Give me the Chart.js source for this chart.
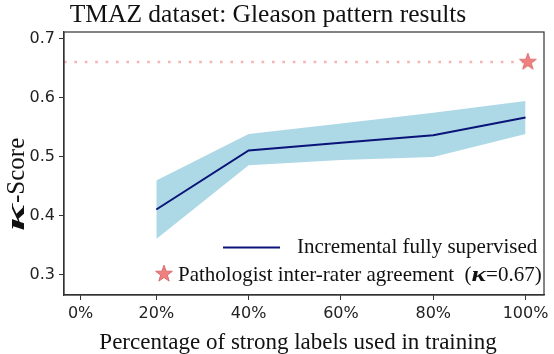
<!DOCTYPE html>
<html>
<head>
<meta charset="utf-8">
<script src="https://cdn.jsdelivr.net/npm/chart.js@4/dist/chart.umd.min.js"></script>
<style>
  html, body { margin: 0; padding: 0; background: #fff; }
  #wrap { width: 554px; height: 354px; position: relative; }
</style>
</head>
<body>
<div id="wrap"><canvas id="c" width="554" height="354"></canvas></div>
<script>
// ---- data ----
const chartTitle = 'TMAZ dataset: Gleason pattern results';
const xAxisTitle = 'Percentage of strong labels used in training';
const yAxisTitle = '-Score';
const kappaSymbol = 'κ';
const xValues = [20, 40, 60, 80, 100];
const meanScore = [0.410, 0.510, 0.523, 0.536, 0.566];
const upperBand = [0.459, 0.538, 0.556, 0.574, 0.594];
const lowerBand = [0.360, 0.485, 0.494, 0.499, 0.538];
const pathologistX = [0, 100];
const pathologistScore = [0.66, 0.66];
const starX = [100.5];
const starScore = [0.66];
const xTickValues = [3.6, 20, 40, 60, 80, 100];
const xTickLabels = ['0%', '20%', '40%', '60%', '80%', '100%'];
const yTickValues = [0.3, 0.4, 0.5, 0.6, 0.7];
const seriesLabels = ['Incremental fully supervised', 'Pathologist inter-rater agreement  ('];
const kappaValueText = '=0.67)';

const toXY = (xs, ys) => xs.map((x, i) => ({x: x, y: ys[i]}));

// star marker image
function makeStar(R) {
  const s = Math.ceil(R * 2 + 4);
  const cv = document.createElement('canvas');
  cv.width = s; cv.height = s;
  const g = cv.getContext('2d');
  const cx = s / 2, cy = s / 2, r = R * 0.4;
  g.beginPath();
  for (let i = 0; i < 10; i++) {
    const ang = -Math.PI / 2 + i * Math.PI / 5;
    const rad = i % 2 === 0 ? R : r;
    const px = cx + rad * Math.cos(ang), py = cy + rad * Math.sin(ang);
    if (i === 0) g.moveTo(px, py); else g.lineTo(px, py);
  }
  g.closePath();
  g.fillStyle = '#f08080';
  g.fill();
  g.lineWidth = 1;
  g.strokeStyle = '#d86c6c';
  g.stroke();
  return cv;
}
const starImg = makeStar(8.8);

const SERIF = '"Liberation Serif", "Times New Roman", serif';
const SANS = '"DejaVu Sans", sans-serif';

const decor = {
  id: 'decor',
  afterDraw(chart) {
    const ctx = chart.ctx;
    const a = chart.chartArea;
    ctx.save();
    // frame
    ctx.strokeStyle = '#333';
    ctx.lineWidth = 1.2;
    ctx.strokeRect(a.left, a.top, a.right - a.left, a.bottom - a.top);
    // title
    ctx.fillStyle = '#111';
    ctx.font = '25.5px ' + SERIF;
    ctx.textAlign = 'center';
    ctx.textBaseline = 'alphabetic';
    ctx.fillText(chartTitle, 268, 22);
    // x axis title
    ctx.font = '23px ' + SERIF;
    ctx.fillText(xAxisTitle, 298, 349);
    // y axis title (rotated)
    ctx.save();
    ctx.translate(24, 231);
    ctx.rotate(-Math.PI / 2);
    ctx.textAlign = 'left';
    ctx.font = 'bold italic 26px ' + SERIF;
    const kw0 = ctx.measureText(kappaSymbol).width;
    const kScale = 27 / kw0;
    ctx.save();
    ctx.scale(kScale, 1);
    ctx.fillText(kappaSymbol, 0, 0);
    ctx.restore();
    ctx.font = '25px ' + SERIF;
    ctx.fillText(yAxisTitle, 28, 0);
    ctx.restore();
    // legend row 1
    ctx.strokeStyle = '#0a1478';
    ctx.lineWidth = 2;
    ctx.beginPath();
    ctx.moveTo(223, 247.5);
    ctx.lineTo(280, 247.5);
    ctx.stroke();
    ctx.textAlign = 'left';
    ctx.font = '21px ' + SERIF;
    ctx.fillStyle = '#111';
    ctx.fillText(seriesLabels[0], 297, 253);
    // legend row 2
    ctx.drawImage(starImg, 164 - starImg.width / 2, 274 - starImg.height / 2);
    let x = 178;
    ctx.fillText(seriesLabels[1], x, 281);
    x += ctx.measureText(seriesLabels[1]).width;
    ctx.font = 'bold italic 22px ' + SERIF;
    ctx.save();
    ctx.translate(x, 281);
    ctx.scale(1.25, 1);
    ctx.fillText(kappaSymbol, 0, 0);
    ctx.restore();
    x += ctx.measureText(kappaSymbol).width * 1.25;
    ctx.font = '21px ' + SERIF;
    ctx.fillText(kappaValueText, x, 281);
    ctx.restore();
  }
};

new Chart(document.getElementById('c'), {
  type: 'line',
  data: {
    datasets: [
      {
        label: 'lower',
        data: toXY(xValues, lowerBand),
        borderWidth: 0, pointRadius: 0, fill: false, order: 5,
        borderColor: 'rgba(0,0,0,0)'
      },
      {
        label: 'upper',
        data: toXY(xValues, upperBand),
        borderWidth: 0, pointRadius: 0, fill: '-1', order: 4,
        backgroundColor: '#add8e6', borderColor: 'rgba(0,0,0,0)'
      },
      {
        label: seriesLabels[0],
        data: toXY(xValues, meanScore),
        borderColor: '#0a1478', borderWidth: 2, pointRadius: 0,
        fill: false, tension: 0, order: 2
      },
      {
        label: 'pathologist line',
        data: toXY(pathologistX, pathologistScore),
        borderColor: 'rgba(240,128,128,0.6)', borderWidth: 2.6,
        borderDash: [2.6, 7.8], borderCapStyle: 'butt',
        pointRadius: 0, fill: false, order: 3
      },
      {
        label: 'pathologist',
        data: toXY(starX, starScore),
        showLine: false, pointStyle: starImg, pointRadius: 9, order: 1
      }
    ]
  },
  options: {
    responsive: false,
    animation: false,
    events: [],
    layout: { padding: { top: 32, right: 8, left: 0, bottom: 0 } },
    plugins: { legend: { display: false }, title: { display: false }, tooltip: { enabled: false } },
    scales: {
      x: {
        type: 'linear', min: 0, max: 104,
        afterBuildTicks: (s) => { s.ticks = xTickValues.map(v => ({value: v})); },
        afterFit: (s) => { s.height = 59; },
        ticks: {
          autoSkip: false, maxRotation: 0, padding: 4,
          color: '#222', font: { family: SANS, size: 16 },
          callback: (v, i) => xTickLabels[i]
        },
        grid: { drawOnChartArea: false, drawTicks: true, tickLength: 5, color: '#333' },
        border: { display: true, color: '#333', width: 1.2 }
      },
      y: {
        type: 'linear', min: 0.265, max: 0.711,
        afterBuildTicks: (s) => { s.ticks = yTickValues.map(v => ({value: v})); },
        afterFit: (s) => { s.width = 64; },
        ticks: {
          padding: 4, color: '#222', font: { family: SANS, size: 16 },
          callback: (v) => v.toFixed(1)
        },
        grid: { drawOnChartArea: false, drawTicks: true, tickLength: 5, color: '#333' },
        border: { display: true, color: '#333', width: 1.2 }
      }
    }
  },
  plugins: [decor]
});
</script>
</body>
</html>
